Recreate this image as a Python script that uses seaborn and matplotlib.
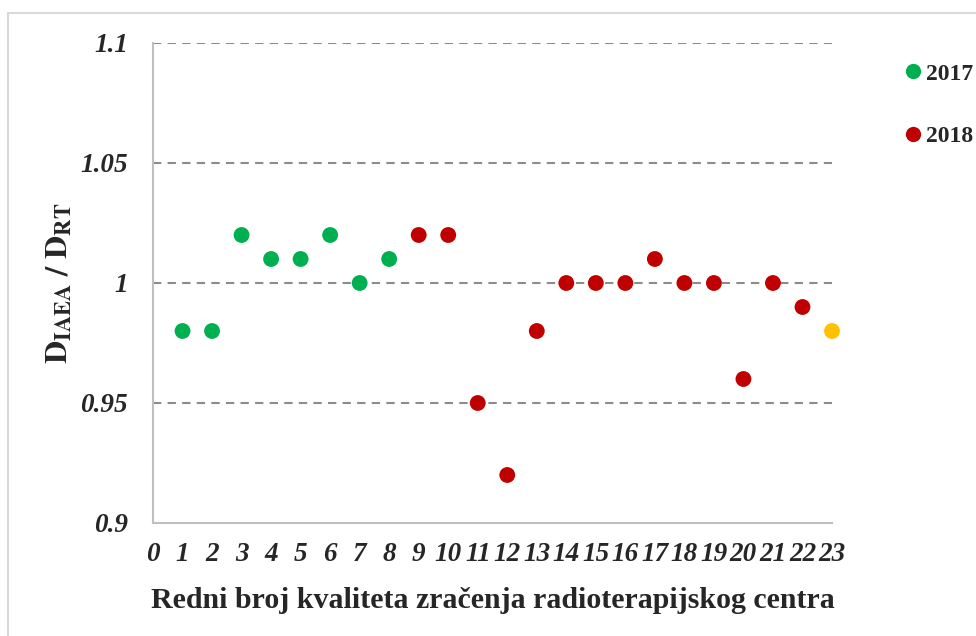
import matplotlib
matplotlib.use("Agg")
import matplotlib.pyplot as plt
import numpy as np
import pandas as pd
import seaborn as sns
from matplotlib.lines import Line2D
from matplotlib.patches import Rectangle

# ---- data ----
x_2017 = [1, 2, 3, 4, 5, 6, 7, 8]
y_2017 = [0.98, 0.98, 1.02, 1.01, 1.01, 1.02, 1.00, 1.01]
x_2018 = [9, 10, 11, 12, 13, 14, 15, 16, 17, 18, 19, 20, 21, 22]
y_2018 = [1.02, 1.02, 0.95, 0.92, 0.98, 1.00, 1.00, 1.00, 1.01, 1.00, 1.00, 0.96, 1.00, 0.99]
x_other = [23]
y_other = [0.98]

x_ticks = list(range(0, 24))
y_ticks = [0.9, 0.95, 1.0, 1.05, 1.1]
y_tick_labels = ["0.9", "0.95", "1", "1.05", "1.1"]
legend_labels = ["2017", "2018"]
x_label = "Redni broj kvaliteta zračenja radioterapijskog centra"
y_label = r"$\mathbf{D}_{\mathbf{IAEA}}\mathbf{\ /\ D}_{\mathbf{RT}}$"

colors = {"2017": "#00B050", "2018": "#C00000", "ostalo": "#FFC000"}

df = pd.DataFrame({
    "x": x_2017 + x_2018 + x_other,
    "y": y_2017 + y_2018 + y_other,
    "grupa": ["2017"] * len(x_2017) + ["2018"] * len(x_2018) + ["ostalo"] * len(x_other),
})

sns.set_theme(style="white")
plt.rcParams["font.family"] = ["Liberation Serif", "DejaVu Serif"]
plt.rcParams["mathtext.fontset"] = "stix"

W, H = 976, 636
fig = plt.figure(figsize=(W / 100, H / 100), dpi=100)
fig.patch.set_facecolor("white")
fig.patches.append(Rectangle((8 / W, -0.02), 1.2, 1 - 13 / H + 0.02,
                             transform=fig.transFigure, fill=False,
                             edgecolor="#D9D9D9", lw=1.5))

ax = fig.add_axes([153 / W, 113 / H, (832 - 153) / W, (523 - 43) / H])

sns.scatterplot(data=df, x="x", y="y", hue="grupa", palette=colors,
                s=130, edgecolor="none", linewidth=0, ax=ax, legend=False,
                clip_on=False, zorder=3)

ax.set_xlim(0, 23)
ax.set_ylim(0.9, 1.1)
ax.set_xticks(x_ticks)
ax.set_xticklabels([str(t) for t in x_ticks], fontsize=19.5,
                   fontweight="bold", fontstyle="italic")
ax.set_yticks(y_ticks)
ax.set_yticklabels(y_tick_labels, fontsize=19.5, fontweight="bold",
                   fontstyle="italic")
ax.tick_params(axis="both", length=0)
ax.tick_params(axis="y", pad=18)
ax.tick_params(axis="x", pad=14)

ax.yaxis.grid(True, linestyle=(0, (4, 3)), color="#8C8C8C", lw=1.5)
ax.xaxis.grid(False)
ax.get_ygridlines()[0].set_visible(False)

for side in ["top", "right"]:
    ax.spines[side].set_visible(False)
for side in ["left", "bottom"]:
    ax.spines[side].set_color("#BFBFBF")
    ax.spines[side].set_linewidth(1.5)

ax.set_xlabel(x_label, fontsize=21.5, fontweight="bold", labelpad=14)
ax.set_ylabel(y_label, fontsize=23, labelpad=4)

handles = [Line2D([0], [0], marker="o", linestyle="none", markersize=11,
                  markerfacecolor=colors[l], markeredgecolor="none")
           for l in legend_labels]
fig.legend(handles, legend_labels, loc="upper left",
           bbox_to_anchor=(901 / W, 1 - 63 / H), frameon=False,
           prop={"family": "Liberation Serif", "weight": "bold", "size": 17},
           handletextpad=0.05, handlelength=1.0, labelspacing=1.75,
           borderaxespad=0, borderpad=0)

fig.savefig("out.png", dpi=100, facecolor="white")
